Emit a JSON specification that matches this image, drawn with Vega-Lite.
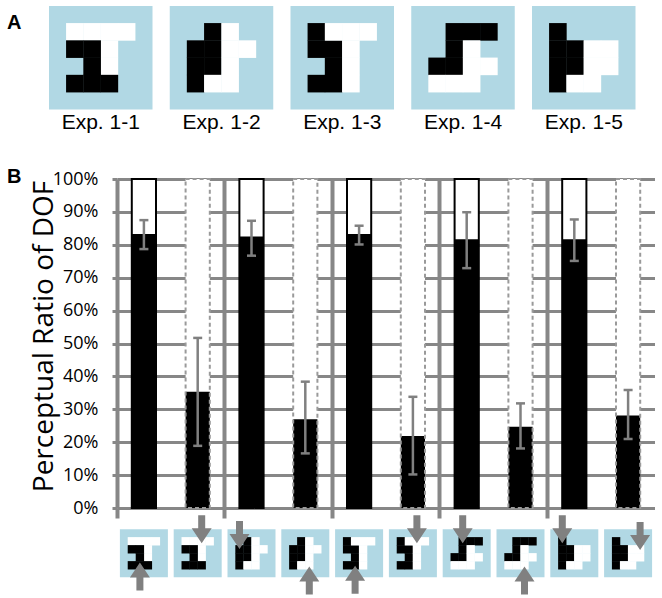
{
  "$schema": "https://vega.github.io/schema/vega-lite/v6.json",
  "padding": {"left": 7, "top": 0, "right": 0, "bottom": 0},
  "bounds": "flush",
  "spacing": 6,
  "background": "white",
  "resolve": {"scale": {"xOffset": "independent"}},
  "config": {"view": {"stroke": null}, "font": "Open Sans"},
  "datasets": {
    "exps": [
      {"exp": "1-1", "label": "Exp. 1-1"},
      {"exp": "1-2", "label": "Exp. 1-2"},
      {"exp": "1-3", "label": "Exp. 1-3"},
      {"exp": "1-4", "label": "Exp. 1-4"},
      {"exp": "1-5", "label": "Exp. 1-5"}
    ],
    "shapes": [
      {"exp": "1-1", "col": 1, "row": 1, "c": "W"}, {"exp": "1-1", "col": 2, "row": 1, "c": "W"}, {"exp": "1-1", "col": 3, "row": 1, "c": "W"}, {"exp": "1-1", "col": 4, "row": 1, "c": "W"}, {"exp": "1-1", "col": 3, "row": 2, "c": "W"}, {"exp": "1-1", "col": 3, "row": 3, "c": "W"},
      {"exp": "1-1", "col": 1, "row": 2, "c": "B"}, {"exp": "1-1", "col": 2, "row": 2, "c": "B"}, {"exp": "1-1", "col": 2, "row": 3, "c": "B"}, {"exp": "1-1", "col": 1, "row": 4, "c": "B"}, {"exp": "1-1", "col": 2, "row": 4, "c": "B"}, {"exp": "1-1", "col": 3, "row": 4, "c": "B"},
      {"exp": "1-2", "col": 2, "row": 1, "c": "B"}, {"exp": "1-2", "col": 2, "row": 2, "c": "B"}, {"exp": "1-2", "col": 2, "row": 3, "c": "B"}, {"exp": "1-2", "col": 1, "row": 2, "c": "B"}, {"exp": "1-2", "col": 1, "row": 3, "c": "B"}, {"exp": "1-2", "col": 1, "row": 4, "c": "B"},
      {"exp": "1-2", "col": 3, "row": 1, "c": "W"}, {"exp": "1-2", "col": 3, "row": 2, "c": "W"}, {"exp": "1-2", "col": 3, "row": 3, "c": "W"}, {"exp": "1-2", "col": 3, "row": 4, "c": "W"}, {"exp": "1-2", "col": 4, "row": 2, "c": "W"}, {"exp": "1-2", "col": 2, "row": 4, "c": "W"},
      {"exp": "1-3", "col": 1, "row": 1, "c": "B"}, {"exp": "1-3", "col": 1, "row": 2, "c": "B"}, {"exp": "1-3", "col": 2, "row": 2, "c": "B"}, {"exp": "1-3", "col": 2, "row": 3, "c": "B"}, {"exp": "1-3", "col": 1, "row": 4, "c": "B"}, {"exp": "1-3", "col": 2, "row": 4, "c": "B"},
      {"exp": "1-3", "col": 2, "row": 1, "c": "W"}, {"exp": "1-3", "col": 3, "row": 1, "c": "W"}, {"exp": "1-3", "col": 4, "row": 1, "c": "W"}, {"exp": "1-3", "col": 3, "row": 2, "c": "W"}, {"exp": "1-3", "col": 3, "row": 3, "c": "W"}, {"exp": "1-3", "col": 3, "row": 4, "c": "W"},
      {"exp": "1-4", "col": 2, "row": 1, "c": "B"}, {"exp": "1-4", "col": 3, "row": 1, "c": "B"}, {"exp": "1-4", "col": 4, "row": 1, "c": "B"}, {"exp": "1-4", "col": 2, "row": 2, "c": "B"}, {"exp": "1-4", "col": 1, "row": 3, "c": "B"}, {"exp": "1-4", "col": 2, "row": 3, "c": "B"},
      {"exp": "1-4", "col": 3, "row": 2, "c": "W"}, {"exp": "1-4", "col": 3, "row": 3, "c": "W"}, {"exp": "1-4", "col": 4, "row": 3, "c": "W"}, {"exp": "1-4", "col": 1, "row": 4, "c": "W"}, {"exp": "1-4", "col": 2, "row": 4, "c": "W"}, {"exp": "1-4", "col": 3, "row": 4, "c": "W"},
      {"exp": "1-5", "col": 1, "row": 1, "c": "B"}, {"exp": "1-5", "col": 1, "row": 2, "c": "B"}, {"exp": "1-5", "col": 1, "row": 3, "c": "B"}, {"exp": "1-5", "col": 1, "row": 4, "c": "B"}, {"exp": "1-5", "col": 2, "row": 2, "c": "B"}, {"exp": "1-5", "col": 2, "row": 3, "c": "B"},
      {"exp": "1-5", "col": 3, "row": 2, "c": "W"}, {"exp": "1-5", "col": 4, "row": 2, "c": "W"}, {"exp": "1-5", "col": 3, "row": 3, "c": "W"}, {"exp": "1-5", "col": 4, "row": 3, "c": "W"}, {"exp": "1-5", "col": 2, "row": 4, "c": "W"}, {"exp": "1-5", "col": 3, "row": 4, "c": "W"}
    ],
    "bars": [
      {"exp": "1-1", "side": "S", "value": 0.833, "lo": 0.787, "hi": 0.875},
      {"exp": "1-1", "side": "D", "value": 0.353, "lo": 0.189, "hi": 0.517},
      {"exp": "1-2", "side": "S", "value": 0.825, "lo": 0.767, "hi": 0.873},
      {"exp": "1-2", "side": "D", "value": 0.270, "lo": 0.166, "hi": 0.384},
      {"exp": "1-3", "side": "S", "value": 0.833, "lo": 0.801, "hi": 0.858},
      {"exp": "1-3", "side": "D", "value": 0.219, "lo": 0.102, "hi": 0.338},
      {"exp": "1-4", "side": "S", "value": 0.817, "lo": 0.729, "hi": 0.899},
      {"exp": "1-4", "side": "D", "value": 0.247, "lo": 0.181, "hi": 0.318},
      {"exp": "1-5", "side": "S", "value": 0.817, "lo": 0.751, "hi": 0.877},
      {"exp": "1-5", "side": "D", "value": 0.281, "lo": 0.210, "hi": 0.359}
    ],
    "arrows": [
      {"exp": "1-1", "side": "S", "col": 2, "y": 5.4, "dir": "up"},
      {"exp": "1-1", "side": "D", "col": 3, "y": -0.5, "dir": "down"},
      {"exp": "1-2", "side": "S", "col": 1, "y": 0.2, "dir": "down"},
      {"exp": "1-2", "side": "D", "col": 3, "y": 5.9, "dir": "up"},
      {"exp": "1-3", "side": "S", "col": 2, "y": 5.8, "dir": "up"},
      {"exp": "1-3", "side": "D", "col": 3, "y": -0.5, "dir": "down"},
      {"exp": "1-4", "side": "S", "col": 2, "y": -0.5, "dir": "down"},
      {"exp": "1-4", "side": "D", "col": 3, "y": 5.9, "dir": "up"},
      {"exp": "1-5", "side": "S", "col": 1, "y": -0.5, "dir": "down"},
      {"exp": "1-5", "side": "D", "col": 4, "y": 0.35, "dir": "down"}
    ]
  },
  "vconcat": [
    {
      "width": 538,
      "height": 173,
      "title": {"text": "A", "anchor": "start", "frame": "group", "orient": "top", "offset": 0, "baseline": "alphabetic", "dx": -110, "dy": 49, "font": "Liberation Sans", "fontSize": 20, "fontWeight": "bold", "color": "#000000"},
      "layer": [
        {
          "data": {"name": "exps"},
          "mark": {"type": "point", "shape": "square", "filled": true, "size": 10712, "opacity": 1, "strokeWidth": 0, "color": "#b1d8e4"},
          "encoding": {
            "x": {"field": "exp", "type": "nominal", "scale": {"domain": ["1-1", "1-2", "1-3", "1-4", "1-5"], "range": [-68, 518.5], "paddingInner": 0.142857, "paddingOuter": 0}, "axis": null},
            "y": {"datum": 2.5, "type": "quantitative", "scale": {"domain": [-0.8478, 9.181], "reverse": true, "nice": false, "zero": false}, "axis": null}
          }
        },
        {
          "data": {"name": "shapes"},
          "mark": {"type": "point", "shape": "square", "filled": true, "size": 310, "opacity": 1, "strokeWidth": 0},
          "encoding": {
            "x": {"field": "exp", "type": "nominal", "scale": {"domain": ["1-1", "1-2", "1-3", "1-4", "1-5"], "range": [-68, 518.5], "paddingInner": 0.142857, "paddingOuter": 0}, "axis": null},
            "xOffset": {"field": "col", "type": "ordinal", "scale": {"type": "band", "domain": [0, 1, 2, 3, 4, 5], "paddingInner": 0, "paddingOuter": 0}},
            "y": {"field": "row", "type": "quantitative", "axis": null},
            "color": {"field": "c", "type": "nominal", "scale": {"domain": ["B", "W"], "range": ["#000000", "#ffffff"]}, "legend": null}
          }
        },
        {
          "data": {"name": "exps"},
          "mark": {"type": "text", "font": "Liberation Sans", "fontSize": 21, "baseline": "alphabetic", "color": "#000000"},
          "encoding": {
            "x": {"field": "exp", "type": "nominal", "scale": {"domain": ["1-1", "1-2", "1-3", "1-4", "1-5"], "range": [-68, 518.5], "paddingInner": 0.142857, "paddingOuter": 0}, "axis": null},
            "y": {"datum": 6.648, "type": "quantitative", "axis": null},
            "text": {"field": "label"}
          }
        }
      ]
    },
    {
      "width": 538,
      "height": 329,
      "title": {"text": "B", "anchor": "start", "frame": "group", "orient": "top", "offset": 0, "baseline": "alphabetic", "dx": -110, "dy": 33, "font": "Liberation Sans", "fontSize": 20, "fontWeight": "bold", "color": "#000000"},
      "data": {"name": "bars"},
      "resolve": {"axis": {"y": "independent"}},
      "encoding": {
        "x": {"field": "exp", "type": "nominal", "scale": {"domain": ["1-1", "1-2", "1-3", "1-4", "1-5"], "paddingInner": 0, "paddingOuter": 0},
          "axis": {"title": null, "labels": false, "domain": false, "grid": true, "bandPosition": 0, "tickExtra": false, "gridColor": "#878787", "gridWidth": 4, "gridOpacity": 1, "ticks": true, "tickSize": 10, "tickWidth": 4, "tickColor": "#878787"}},
        "xOffset": {"field": "side", "type": "nominal", "scale": {"type": "band", "domain": ["S", "D"], "paddingInner": 0.55, "paddingOuter": 0.275}}
      },
      "layer": [
        {
          "mark": {"type": "bar", "fill": "#ffffff"},
          "encoding": {
            "y": {"field": "value", "type": "quantitative", "scale": {"domain": [0, 1], "nice": false},
              "axis": {"values": [0, 0.1, 0.2, 0.3, 0.4, 0.5, 0.6, 0.7, 0.8, 0.9, 1], "tickCount": 12, "format": ".0%", "grid": true, "gridColor": "#878787", "gridWidth": 3, "gridOpacity": 1, "domain": false, "ticks": true, "tickSize": 5, "tickWidth": 3, "tickColor": "#878787", "labelPadding": 14, "labelFont": "Open Sans", "labelFontSize": 18, "labelColor": "#000000", "labelOverlap": false, "title": "Perceptual Ratio of DOF", "titleFont": "Open Sans", "titleFontSize": 28, "titleFontWeight": "normal", "titleColor": "#000000", "titleBaseline": "alphabetic", "titlePadding": 0, "titleY": 157}},
            "y2": {"datum": 1}
          }
        },
        {
          "mark": {"type": "bar", "fill": "#000000"},
          "encoding": {"y": {"field": "value", "type": "quantitative", "axis": null}}
        },
        {
          "mark": {"type": "bar", "fill": "transparent", "strokeWidth": 2},
          "encoding": {
            "y": {"datum": 1, "type": "quantitative", "axis": null},
            "y2": {"datum": 0},
            "stroke": {"field": "side", "type": "nominal", "scale": {"domain": ["S", "D"], "range": ["#000000", "#9a9a9a"]}, "legend": null},
            "strokeDash": {"field": "side", "type": "nominal", "scale": {"domain": ["S", "D"], "range": [[1, 0], [4, 3]]}, "legend": null}
          }
        },
        {
          "mark": {"type": "rule", "color": "#808080", "strokeWidth": 2.5},
          "encoding": {"y": {"field": "lo", "type": "quantitative", "axis": null}, "y2": {"field": "hi"}}
        },
        {
          "mark": {"type": "tick", "color": "#808080", "thickness": 2.5, "size": 9, "opacity": 1},
          "encoding": {"y": {"field": "lo", "type": "quantitative", "axis": null}}
        },
        {
          "mark": {"type": "tick", "color": "#808080", "thickness": 2.5, "size": 9, "opacity": 1},
          "encoding": {"y": {"field": "hi", "type": "quantitative", "axis": null}}
        }
      ]
    },
    {
      "width": 538,
      "height": 84,
      "resolve": {"scale": {"x": "independent", "xOffset": "independent"}},
      "layer": [
        {
          "layer": [
            {
              "data": {"name": "exps"},
              "mark": {"type": "point", "shape": "square", "filled": true, "size": 2304, "opacity": 1, "strokeWidth": 0, "color": "#b1d8e4"},
              "encoding": {
                "x": {"field": "exp", "type": "nominal", "scale": {"domain": ["1-1", "1-2", "1-3", "1-4", "1-5"], "paddingInner": 0.5539, "paddingOuter": 0.27695, "align": 0.04866}, "axis": null},
                "y": {"datum": 2.5, "type": "quantitative", "scale": {"domain": [-2.4125, 8.0875], "reverse": true, "nice": false, "zero": false}, "axis": null}
              }
            },
            {
              "data": {"name": "shapes"},
              "mark": {"type": "point", "shape": "square", "filled": true, "size": 70, "opacity": 1, "strokeWidth": 0},
              "encoding": {
                "x": {"field": "exp", "type": "nominal", "scale": {"domain": ["1-1", "1-2", "1-3", "1-4", "1-5"], "paddingInner": 0.5539, "paddingOuter": 0.27695, "align": 0.04866}, "axis": null},
                "xOffset": {"field": "col", "type": "ordinal", "scale": {"type": "band", "domain": [0, 1, 2, 3, 4, 5], "paddingInner": 0, "paddingOuter": 0}},
                "y": {"field": "row", "type": "quantitative", "axis": null},
                "color": {"field": "c", "type": "nominal", "scale": {"domain": ["B", "W"], "range": ["#000000", "#ffffff"]}, "legend": null}
              }
            },
            {
              "data": {"name": "arrows"},
              "transform": [{"filter": "datum.side == 'S'"}],
              "mark": {"type": "point", "filled": true, "size": 400, "opacity": 1, "color": "#808080", "strokeWidth": 0},
              "encoding": {
                "x": {"field": "exp", "type": "nominal", "scale": {"domain": ["1-1", "1-2", "1-3", "1-4", "1-5"], "paddingInner": 0.5539, "paddingOuter": 0.27695, "align": 0.04866}, "axis": null},
                "xOffset": {"field": "col", "type": "ordinal", "scale": {"type": "band", "domain": [0, 1, 2, 3, 4, 5], "paddingInner": 0, "paddingOuter": 0}},
                "y": {"field": "y", "type": "quantitative", "axis": null},
                "shape": {"field": "dir", "type": "nominal", "scale": {"domain": ["down", "up"], "range": ["M-0.35,-1.4L0.35,-1.4L0.35,-0.1L1,-0.1L0,1.4L-1,-0.1L-0.35,-0.1Z", "M-0.35,1.4L0.35,1.4L0.35,0.1L1,0.1L0,-1.4L-1,0.1L-0.35,0.1Z"]}, "legend": null}
              }
            }
          ]
        },
        {
          "layer": [
            {
              "data": {"name": "exps"},
              "mark": {"type": "point", "shape": "square", "filled": true, "size": 2304, "opacity": 1, "strokeWidth": 0, "color": "#b1d8e4"},
              "encoding": {
                "x": {"field": "exp", "type": "nominal", "scale": {"domain": ["1-1", "1-2", "1-3", "1-4", "1-5"], "paddingInner": 0.5539, "paddingOuter": 0.27695, "align": 0.9513}, "axis": null},
                "y": {"datum": 2.5, "type": "quantitative", "axis": null}
              }
            },
            {
              "data": {"name": "shapes"},
              "mark": {"type": "point", "shape": "square", "filled": true, "size": 70, "opacity": 1, "strokeWidth": 0},
              "encoding": {
                "x": {"field": "exp", "type": "nominal", "scale": {"domain": ["1-1", "1-2", "1-3", "1-4", "1-5"], "paddingInner": 0.5539, "paddingOuter": 0.27695, "align": 0.9513}, "axis": null},
                "xOffset": {"field": "col", "type": "ordinal", "scale": {"type": "band", "domain": [0, 1, 2, 3, 4, 5], "paddingInner": 0, "paddingOuter": 0}},
                "y": {"field": "row", "type": "quantitative", "axis": null},
                "color": {"field": "c", "type": "nominal", "scale": {"domain": ["B", "W"], "range": ["#000000", "#ffffff"]}, "legend": null}
              }
            },
            {
              "data": {"name": "arrows"},
              "transform": [{"filter": "datum.side == 'D'"}],
              "mark": {"type": "point", "filled": true, "size": 400, "opacity": 1, "color": "#808080", "strokeWidth": 0},
              "encoding": {
                "x": {"field": "exp", "type": "nominal", "scale": {"domain": ["1-1", "1-2", "1-3", "1-4", "1-5"], "paddingInner": 0.5539, "paddingOuter": 0.27695, "align": 0.9513}, "axis": null},
                "xOffset": {"field": "col", "type": "ordinal", "scale": {"type": "band", "domain": [0, 1, 2, 3, 4, 5], "paddingInner": 0, "paddingOuter": 0}},
                "y": {"field": "y", "type": "quantitative", "axis": null},
                "shape": {"field": "dir", "type": "nominal", "scale": {"domain": ["down", "up"], "range": ["M-0.35,-1.4L0.35,-1.4L0.35,-0.1L1,-0.1L0,1.4L-1,-0.1L-0.35,-0.1Z", "M-0.35,1.4L0.35,1.4L0.35,0.1L1,0.1L0,-1.4L-1,0.1L-0.35,0.1Z"]}, "legend": null}
              }
            }
          ]
        }
      ]
    }
  ]
}
